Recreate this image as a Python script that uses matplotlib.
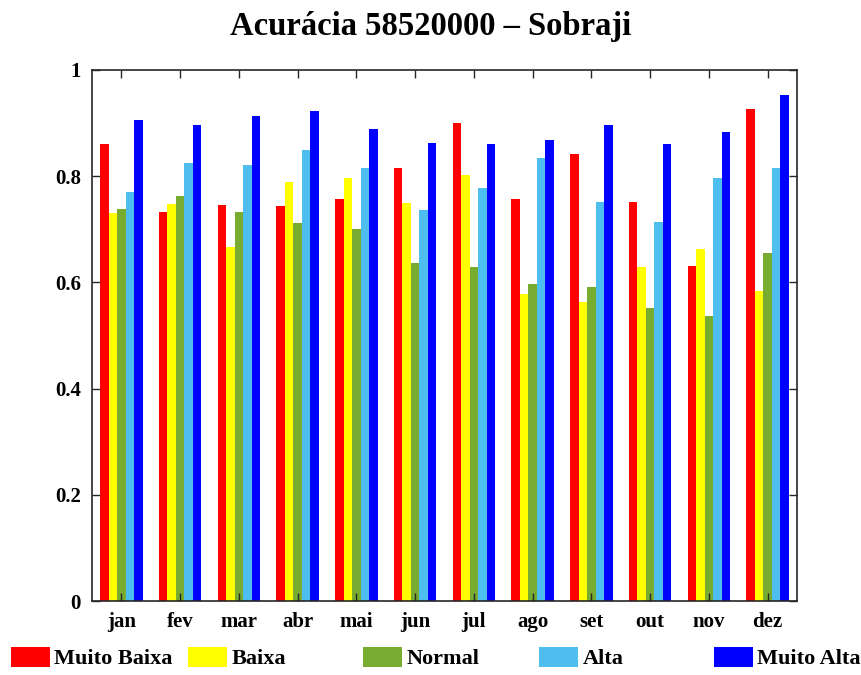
import numpy as np
import matplotlib.pyplot as plt

plt.rcParams['font.family'] = ['Liberation Serif', 'DejaVu Serif']
plt.rcParams['font.weight'] = 'bold'

meses = ['jan', 'fev', 'mar', 'abr', 'mai', 'jun', 'jul', 'ago', 'set', 'out', 'nov', 'dez']
classes = ['Muito Baixa', 'Baixa', 'Normal', 'Alta', 'Muito Alta']
cores = ['#ff0000', '#ffff00', '#77ac30', '#4dbeee', '#0000ff']

muito_baixa = [0.861, 0.733, 0.745, 0.744, 0.758, 0.816, 0.900, 0.758, 0.842, 0.752, 0.630, 0.926]
baixa = [0.731, 0.748, 0.667, 0.790, 0.796, 0.750, 0.803, 0.579, 0.564, 0.629, 0.663, 0.584]
normal = [0.739, 0.762, 0.732, 0.711, 0.701, 0.637, 0.629, 0.597, 0.591, 0.552, 0.537, 0.655]
alta = [0.770, 0.825, 0.822, 0.849, 0.816, 0.736, 0.778, 0.835, 0.751, 0.713, 0.797, 0.816]
muito_alta = [0.906, 0.896, 0.913, 0.923, 0.888, 0.863, 0.860, 0.868, 0.896, 0.860, 0.883, 0.952]

series = [muito_baixa, baixa, normal, alta, muito_alta]

fig = plt.figure(figsize=(8.62, 6.75), dpi=100)
ax = fig.add_axes([0.1067, 0.1096, 0.8179, 0.7867])

x = np.arange(1, 13)
w = 0.145
handles = []
for i, (vals, cor) in enumerate(zip(series, cores)):
    b = ax.bar(x + (i - 2) * w, vals, width=w, color=cor, edgecolor='none')
    handles.append(b)

ax.set_xlim(0.5, 12.5)
ax.set_ylim(0, 1)
ax.set_xticks(x)
ax.set_xticklabels(meses)
ax.set_yticks([0, 0.2, 0.4, 0.6, 0.8, 1])
ax.set_yticklabels(['0', '0.2', '0.4', '0.6', '0.8', '1'])
ax.tick_params(direction='in', length=6, width=1, top=True, right=True,
               labelsize=15, colors='#262626', labelcolor='black', pad=8)
for s in ax.spines.values():
    s.set_linewidth(1.2)
    s.set_color('#262626')

# titulo centrado na figura, nao no eixo
fig.suptitle('Acurácia 58520000 – Sobraji', x=0.5, y=0.961, va='center',
             fontsize=23.5, fontweight='bold')

# legenda espalhada na base da figura
pos_leg = [11, 188, 363, 539, 714]
for h, lab, px in zip(handles, classes, pos_leg):
    fig.legend([h], [lab], loc='center left', bbox_to_anchor=(px / 862, 0.025),
               frameon=False, fontsize=16, handlelength=1.75, handleheight=1.0,
               handletextpad=0.2, borderpad=0, borderaxespad=0)

fig.savefig('out.png', dpi=100)
